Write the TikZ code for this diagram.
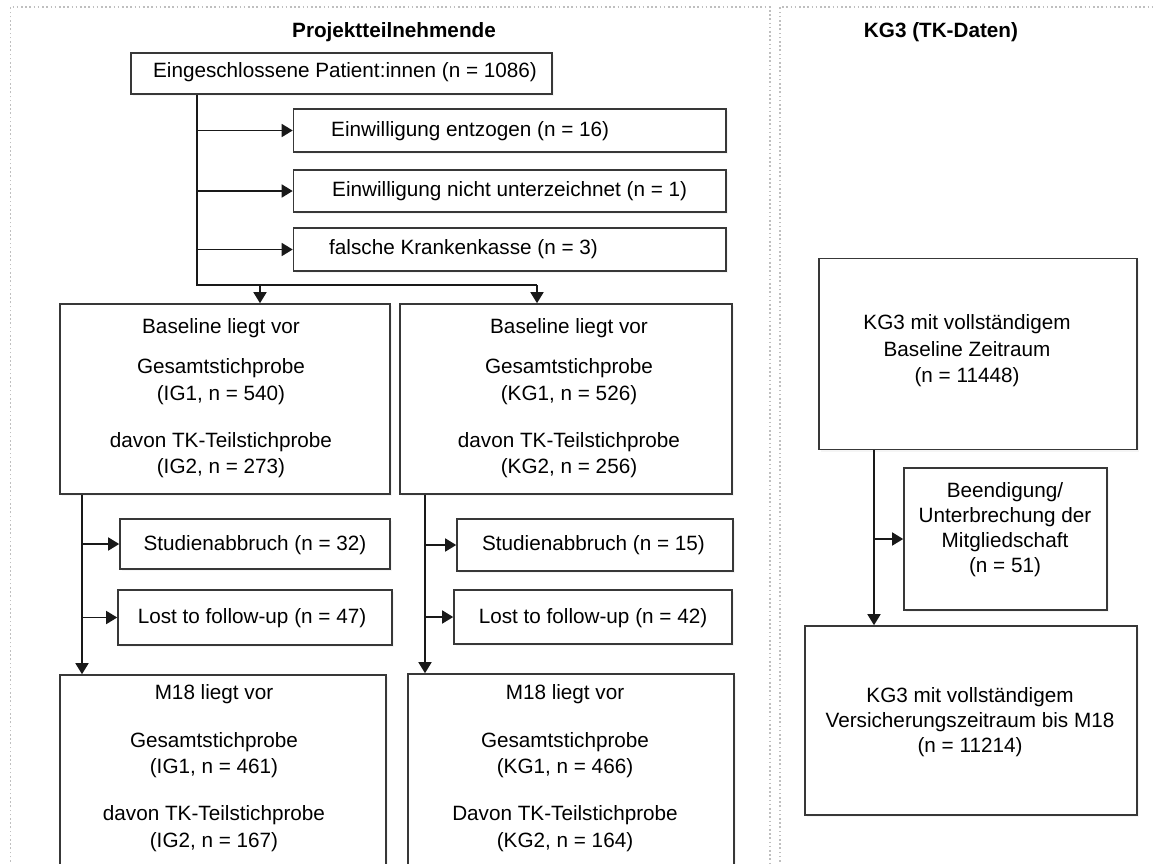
\documentclass[tikz,border=0pt]{standalone}
\usepackage{fontspec}
\setmainfont{Liberation Sans}
\usetikzlibrary{arrows.meta,shadows}
\newcommand{\dgfs}{\fontsize{20.7pt}{26.5pt}\selectfont}
\newcommand{\dgfsb}{\fontsize{20.7pt}{25pt}\selectfont}
\begin{document}
\begin{tikzpicture}[x=1pt,y=-1pt,
  box/.style={draw=black!78, line width=1.6pt, fill=white, inner sep=0pt,
    drop shadow={shadow xshift=2pt,shadow yshift=-2pt,opacity=0.08}},
  txt/.style={inner sep=0pt, align=center, font=\dgfs},
  txtb/.style={inner sep=0pt, align=center, font=\dgfsb},
  ttl/.style={inner sep=0pt, font=\dgfs\bfseries},
  conn/.style={line width=1.6pt, draw=black!90},
  arr/.style={conn, -{Triangle[width=13pt,length=11pt]}},
  panel/.style={draw=black!25, line width=1.6pt, dash pattern=on 1.6pt off 2.6pt}]
\clip (0,0) rectangle (1156,863);
\fill[white] (0,0) rectangle (1156,863);

% panels
\draw[panel] (10.5,870) -- (10.5,7) -- (770,7) -- (770,870);
\draw[panel] (780,870) -- (780,7) -- (1160,7);

% titles
\node[ttl] (t1) at (394,32) {Projektteilnehmende};
\node[ttl] (t2) at (941,32) {KG3 (TK-Daten)};

% boxes
\node[box, minimum width=421pt, minimum height=41pt] (top) at (341.5,73.5) {};
\node[box, minimum width=432.5pt, minimum height=43pt] (ex1) at (509.75,130.5) {};
\node[box, minimum width=432.5pt, minimum height=42pt] (ex2) at (509.75,191) {};
\node[box, minimum width=432.5pt, minimum height=43pt] (ex3) at (509.75,249.5) {};
\node[box, minimum width=330pt, minimum height=190pt] (blL) at (225,399) {};
\node[box, minimum width=332pt, minimum height=190pt] (blR) at (566,399) {};
\node[box, minimum width=270pt, minimum height=50pt] (sa1) at (255,544) {};
\node[box, minimum width=274pt, minimum height=55pt] (lo1) at (255,617.5) {};
\node[box, minimum width=276pt, minimum height=52pt] (sa2) at (595,545) {};
\node[box, minimum width=278pt, minimum height=54pt] (lo2) at (593,617) {};
\node[box, minimum width=326pt, minimum height=193pt] (m1) at (223,771.5) {};
\node[box, minimum width=326pt, minimum height=194pt] (m2) at (571,771) {};
\node[box, minimum width=318pt, minimum height=191pt] (k1) at (978,354) {};
\node[box, minimum width=203pt, minimum height=142pt] (k2) at (1005.5,539) {};
\node[box, minimum width=332pt, minimum height=189pt] (k3) at (971,720.5) {};

% texts
\node[txt] (ttop) at (345,72) {Eingeschlossene Patient:innen (n = 1086)};
\node[txt, anchor=west] (tex1) at (331,131) {Einwilligung entzogen (n = 16)};
\node[txt, anchor=west] (tex2) at (332,191) {Einwilligung nicht unterzeichnet (n = 1)};
\node[txt, anchor=west] (tex3) at (329,249.5) {falsche Krankenkasse (n = 3)};
\node[txt] (tblL) at (221,398.5) {Baseline liegt vor\\[13.5pt]Gesamtstichprobe\\(IG1, n = 540)\\[20.5pt]davon TK-Teilstichprobe\\(IG2, n = 273)};
\node[txt] (tblR) at (569,398.5) {Baseline liegt vor\\[13.5pt]Gesamtstichprobe\\(KG1, n = 526)\\[20.5pt]davon TK-Teilstichprobe\\(KG2, n = 256)};
\node[txt] (tsa1) at (255,545) {Studienabbruch (n = 32)};
\node[txt] (tlo1) at (252,618) {Lost to follow-up (n = 47)};
\node[txt] (tsa2) at (593.5,545) {Studienabbruch (n = 15)};
\node[txt] (tlo2) at (593,618) {Lost to follow-up (n = 42)};
\node[txt] (tm1) at (214,768) {M18 liegt vor\\[21.5pt]Gesamtstichprobe\\(IG1, n = 461)\\[20.5pt]davon TK-Teilstichprobe\\(IG2, n = 167)};
\node[txt] (tm2) at (565,768) {M18 liegt vor\\[21.5pt]Gesamtstichprobe\\(KG1, n = 466)\\[20.5pt]Davon TK-Teilstichprobe\\(KG2, n = 164)};
\node[txt] (tk1) at (967,351) {KG3 mit vollständigem\\Baseline Zeitraum\\(n = 11448)};
\node[txtb] (tk2) at (1005,529.5) {Beendigung/\\Unterbrechung der\\Mitgliedschaft\\(n = 51)};
\node[txtb] (tk3) at (970,722) {KG3 mit vollständigem\\Versicherungszeitraum bis M18\\(n = 11214)};

% connectors
\coordinate (sp) at (197,285);
\coordinate (aL) at (260,285);
\coordinate (aR) at (537,285);
\draw[conn] (top.south -| sp) |- (aR);
\draw[arr] (aL) -- (aL |- blL.north);
\draw[arr] (aR) -- (aR |- blR.north);
\draw[arr] (ex1.west -| sp) -- (ex1.west);
\draw[arr] (ex2.west -| sp) -- (ex2.west);
\draw[arr] (ex3.west -| sp) -- (ex3.west);

\coordinate (vL) at (82,0);
\draw[arr] (blL.south -| vL) -- (m1.north -| vL);
\draw[arr] (sa1.west -| vL) -- (sa1.west);
\draw[arr] (lo1.west -| vL) -- (lo1.west);

\coordinate (vR) at (425,0);
\draw[arr] (blR.south -| vR) -- (m2.north -| vR);
\draw[arr] (sa2.west -| vR) -- (sa2.west);
\draw[arr] (lo2.west -| vR) -- (lo2.west);

\coordinate (vK) at (874,0);
\draw[arr] (k1.south -| vK) -- (k3.north -| vK);
\draw[arr] (k2.west -| vK) -- (k2.west);
\end{tikzpicture}
\end{document}
